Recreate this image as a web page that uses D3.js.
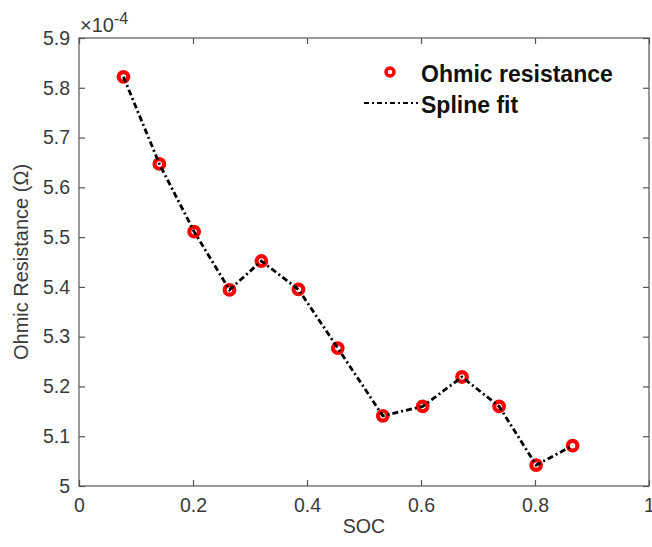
<!DOCTYPE html>
<html>
<head>
<meta charset="utf-8">
<script src="https://cdn.jsdelivr.net/npm/d3@7"></script>
<style>
  body { margin: 0; background: #fff; }
  text { font-family: "Liberation Sans", Arial, sans-serif; }
</style>
</head>
<body>
<div class="chart"></div>
<script>
// SOC values and ohmic resistance (x1e-4 ohm)
const soc = [0.078, 0.141, 0.202, 0.264, 0.320, 0.385, 0.454, 0.533, 0.603, 0.672, 0.737, 0.802, 0.866];
const resistance = [5.822, 5.647, 5.511, 5.394, 5.452, 5.395, 5.277, 5.141, 5.160, 5.219, 5.160, 5.042, 5.081];
const xTicks = [0, 0.2, 0.4, 0.6, 0.8, 1];
const yTicks = [5, 5.1, 5.2, 5.3, 5.4, 5.5, 5.6, 5.7, 5.8, 5.9];
const legendLabels = ["Ohmic resistance", "Spline fit"];

const data = soc.map((s, i) => ({ x: s, y: resistance[i] }));

const width = 652;
const height = 547;
const margin = { top: 38, right: 3, bottom: 61, left: 79 };

const axisColor = "#555";
const textColor = "#3a3a3a";

const xScale = d3.scaleLinear()
  .domain([0, 1])
  .range([margin.left, width - margin.right]);

const yScale = d3.scaleLinear()
  .domain([5, 5.9])
  .range([height - margin.bottom, margin.top]);

const svg = d3.select(".chart")
  .append("svg")
  .attr("width", width)
  .attr("height", height);

// box
svg.append("rect")
  .attr("x", margin.left)
  .attr("y", margin.top)
  .attr("width", width - margin.left - margin.right)
  .attr("height", height - margin.top - margin.bottom)
  .attr("fill", "none")
  .attr("stroke", axisColor)
  .attr("stroke-width", 1.2);

const tickLen = 6;

// bottom axis (ticks inward)
const xAxis = svg.append("g")
  .attr("transform", `translate(0,${height - margin.bottom})`)
  .call(d3.axisBottom(xScale).tickValues(xTicks).tickSize(-tickLen).tickPadding(12).tickFormat(d3.format("")));
// top mirror ticks
const xTop = svg.append("g")
  .attr("transform", `translate(0,${margin.top})`)
  .call(d3.axisTop(xScale).tickValues(xTicks).tickSize(-tickLen).tickFormat(""));

// left axis
const yAxis = svg.append("g")
  .attr("transform", `translate(${margin.left},0)`)
  .call(d3.axisLeft(yScale).tickValues(yTicks).tickSize(-tickLen).tickPadding(9).tickFormat(d3.format("")));
// right mirror ticks
const yRight = svg.append("g")
  .attr("transform", `translate(${width - margin.right},0)`)
  .call(d3.axisRight(yScale).tickValues(yTicks).tickSize(-tickLen).tickFormat(""));

[xAxis, xTop, yAxis, yRight].forEach(g => {
  g.select(".domain").remove();
  g.selectAll(".tick line").attr("stroke", axisColor).attr("stroke-width", 1.2);
  g.selectAll(".tick text")
    .attr("fill", textColor)
    .style("font-size", "19.5px")
    .style("font-family", "'Liberation Sans', Arial, sans-serif");
});

// exponent label
const expo = svg.append("text")
  .attr("x", margin.left + 1)
  .attr("y", 32)
  .attr("fill", textColor)
  .style("font-size", "20px");
expo.append("tspan").text("\u00d710");
expo.append("tspan").attr("dy", -8).style("font-size", "16px").text("-4");

// axis titles
svg.append("text")
  .attr("x", (margin.left + width - margin.right) / 2)
  .attr("y", 533)
  .attr("text-anchor", "middle")
  .attr("fill", textColor)
  .style("font-size", "19.5px")
  .text("SOC");

svg.append("text")
  .attr("transform", `translate(28,${(margin.top + height - margin.bottom) / 2}) rotate(-90)`)
  .attr("text-anchor", "middle")
  .attr("fill", textColor)
  .style("font-size", "20px")
  .text("Ohmic Resistance (\u03a9)");

// spline fit line
const line = d3.line()
  .x(d => xScale(d.x))
  .y(d => yScale(d.y));

const dash = "6,3,2,3";

// markers
svg.append("g")
  .selectAll("circle")
  .data(data)
  .join("circle")
  .attr("cx", d => xScale(d.x))
  .attr("cy", d => yScale(d.y))
  .attr("r", 4.8)
  .attr("fill", "none")
  .attr("stroke", "#ff0000")
  .attr("stroke-width", 4.2);

svg.append("path")
  .datum(data)
  .attr("d", line)
  .attr("fill", "none")
  .attr("stroke", "#000")
  .attr("stroke-width", 2.8)
  .attr("stroke-dasharray", dash);

// legend
const legend = svg.append("g");
legend.append("circle")
  .attr("cx", 390)
  .attr("cy", 72)
  .attr("r", 4)
  .attr("fill", "none")
  .attr("stroke", "#ff0000")
  .attr("stroke-width", 3.5);
legend.append("line")
  .attr("x1", 364)
  .attr("x2", 418)
  .attr("y1", 103)
  .attr("y2", 103)
  .attr("stroke", "#000")
  .attr("stroke-width", 2)
  .attr("stroke-dasharray", "5,3,2,3");
legend.selectAll("text")
  .data(legendLabels)
  .join("text")
  .attr("x", 421)
  .attr("y", (d, i) => 82 + i * 31)
  .attr("fill", "#111")
  .style("font-size", "23px")
  .style("font-weight", "bold")
  .text(d => d);
</script>
</body>
</html>
